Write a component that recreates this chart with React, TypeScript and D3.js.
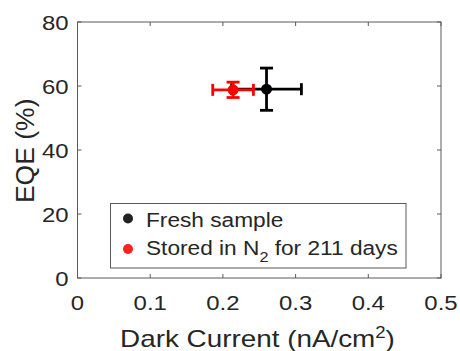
import React from "react";
import * as d3 from "d3";

const series = ["Fresh sample", "Stored in N2 for 211 days"];
const colors = ["#000000", "#ff0000"];
const xVals = [0.26, 0.214];
const yVals = [59, 58.8];
const xErr = [0.048, 0.028];
const yErr = [6.6, 2.4];
const xTicks = [0, 0.1, 0.2, 0.3, 0.4, 0.5];
const yTicks = [0, 20, 40, 60, 80];

function SText({ x, y, sx = 1, anchor = "start", size, children, fill = "#262626" }: any) {
  return (
    <text transform={`translate(${x},${y}) scale(${sx},1)`} textAnchor={anchor} fontSize={size} fill={fill}>
      {children}
    </text>
  );
}

export default function App() {
  const W = 460, H = 351;
  const m = { l: 77.5, r: 441, t: 22, b: 278 };
  const x = d3.scaleLinear().domain([0, 0.5]).range([m.l, m.r]);
  const y = d3.scaleLinear().domain([0, 80]).range([m.b, m.t]);
  const axisColor = "#262626";
  const boxColor = "#5a5a5a";
  const font = "'Liberation Sans', Arial, Helvetica, sans-serif";
  const tickFs = 21, tickSx = 1.14;
  const capH = 6;
  const capV = 6.5;
  return (
    <svg width={W} height={H} style={{ position: "absolute", left: 0, top: 0 }} fontFamily={font}>
      <rect x={0} y={0} width={W} height={H} fill="#fff" />
      <rect x={m.l} y={m.t} width={m.r - m.l} height={m.b - m.t} fill="none" stroke={boxColor} strokeWidth={1} />
      {xTicks.map((t, i) => (
        <g key={"x" + i}>
          <line x1={x(t)} x2={x(t)} y1={m.b} y2={m.b - 4} stroke={boxColor} />
          <line x1={x(t)} x2={x(t)} y1={m.t} y2={m.t + 4} stroke={boxColor} />
          <SText x={x(t)} y={309.5} sx={tickSx} anchor="middle" size={tickFs}>{String(t)}</SText>
        </g>
      ))}
      {yTicks.map((t, i) => (
        <g key={"y" + i}>
          <line x1={m.l} x2={m.l + 4} y1={y(t)} y2={y(t)} stroke={boxColor} />
          <line x1={m.r} x2={m.r - 4} y1={y(t)} y2={y(t)} stroke={boxColor} />
          <SText x={68.5} y={y(t) + 7.5} sx={tickSx} anchor="end" size={tickFs}>{String(t)}</SText>
        </g>
      ))}
      <SText x={257.5} y={346.5} sx={1.16} anchor="middle" size={24}>
        Dark Current (nA/cm<tspan dy={-9} fontSize={16}>2</tspan><tspan dy={9}>)</tspan>
      </SText>
      <text transform={`translate(33.5,${150.8}) rotate(-90)`} textAnchor="middle" fontSize={26.5} fill={axisColor}>
        EQE (%)
      </text>
      {[0, 1].map((i) => {
        const cx = x(xVals[i]), cy = y(yVals[i]);
        const x0 = x(xVals[i] - xErr[i]), x1 = x(xVals[i] + xErr[i]);
        const y0 = y(yVals[i] - yErr[i]), y1 = y(yVals[i] + yErr[i]);
        const c = colors[i];
        return (
          <g key={"s" + i} stroke={c} strokeWidth={2.8}>
            <line x1={x0} x2={x1} y1={cy} y2={cy} />
            <line x1={x0} x2={x0} y1={cy - capH} y2={cy + capH} />
            <line x1={x1} x2={x1} y1={cy - capH} y2={cy + capH} />
            <line x1={cx} x2={cx} y1={y0} y2={y1} />
            <line x1={cx - capV} x2={cx + capV} y1={y0} y2={y0} />
            <line x1={cx - capV} x2={cx + capV} y1={y1} y2={y1} />
            <circle cx={cx} cy={cy} r={5.5} fill={c} stroke="none" />
          </g>
        );
      })}
      <rect x={110.5} y={203.5} width={295.5} height={64.5} fill="#fff" stroke={boxColor} strokeWidth={1} />
      <circle cx={128} cy={218.5} r={5} fill="#222" />
      <circle cx={128} cy={249} r={5} fill="#ff2020" />
      <SText x={146} y={226.5} sx={1.08} size={21}>{series[0]}</SText>
      <SText x={146} y={255} sx={1.08} size={21}>
        Stored in N<tspan dy={7} fontSize={15}>2</tspan><tspan dy={-7}> for 211 days</tspan>
      </SText>
    </svg>
  );
}
